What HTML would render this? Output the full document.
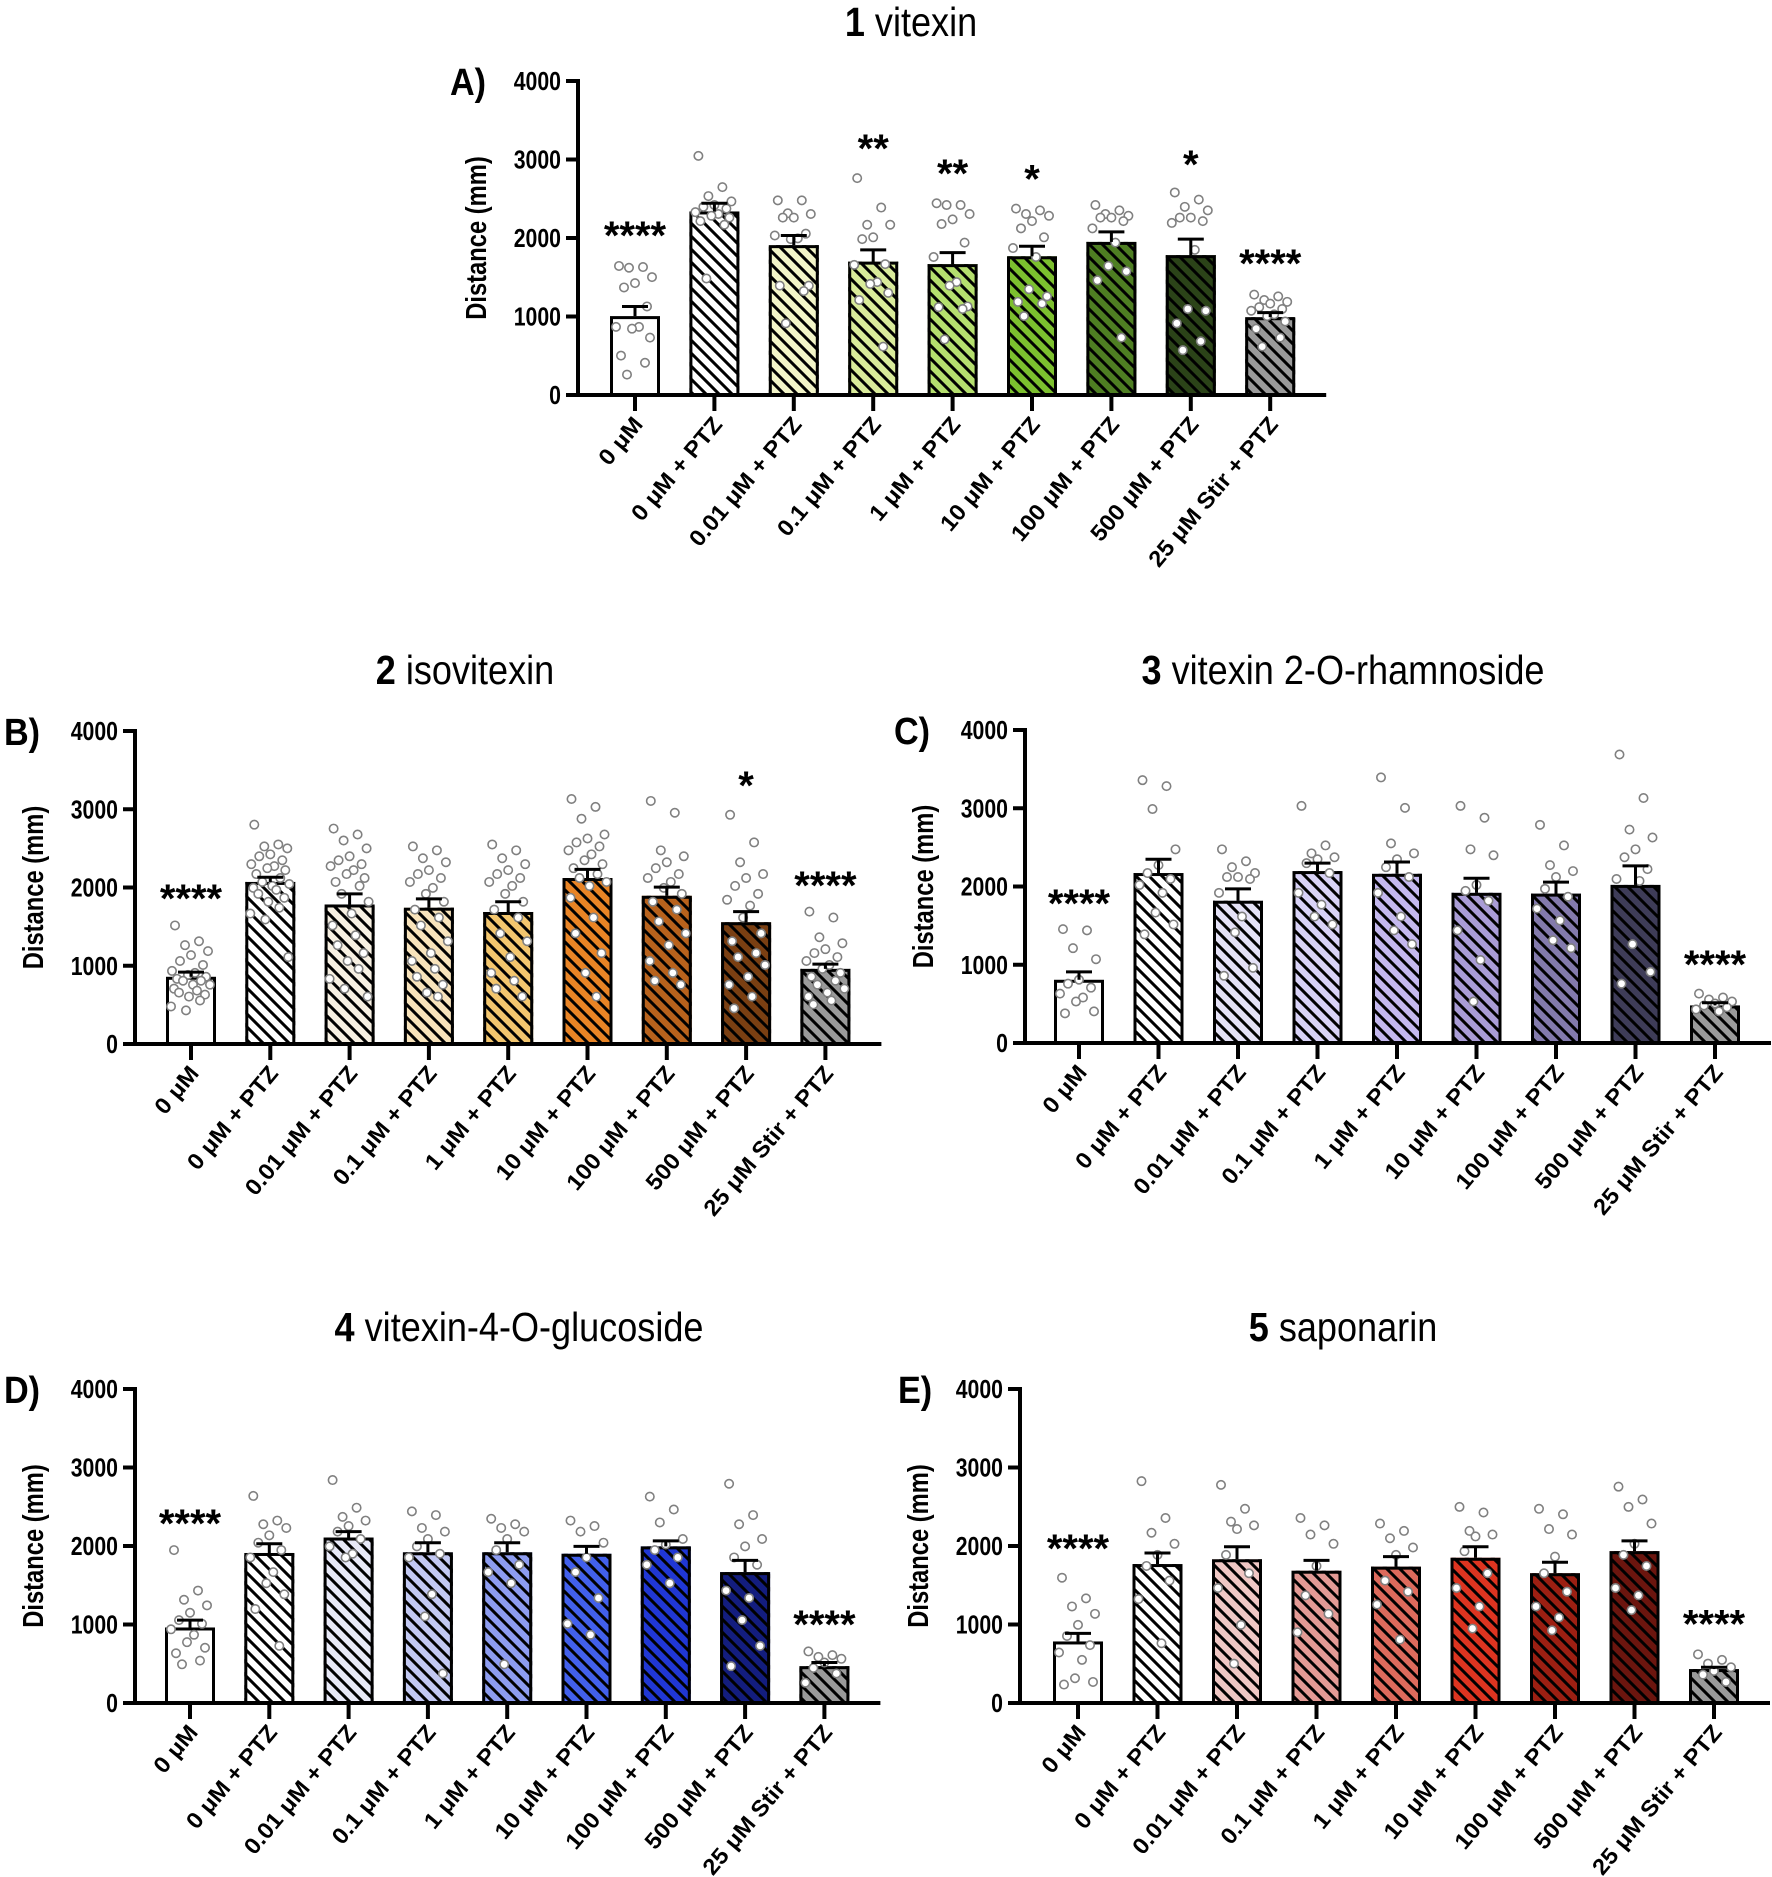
<!DOCTYPE html>
<html><head><meta charset="utf-8"><style>
html,body{margin:0;padding:0;background:#fff;}
svg{display:block;font-family:"Liberation Sans",Arial,sans-serif;}
</style></head><body>
<svg id="fig" width="1772" height="1877" viewBox="0 0 1772 1877" xmlns="http://www.w3.org/2000/svg">
<defs>
<pattern id="hatch" patternUnits="userSpaceOnUse" width="13" height="13">
<path d="M-2,-2 L15,15 M-8.5,4.5 L4.5,17.5 M4.5,-8.5 L17.5,4.5" stroke="#000" stroke-width="3"/>
</pattern>
</defs>
</svg>
<script>
const categories = ["0 \u03bcM","0 \u03bcM + PTZ","0.01 \u03bcM + PTZ","0.1 \u03bcM + PTZ","1 \u03bcM + PTZ","10 \u03bcM + PTZ","100 \u03bcM + PTZ","500 \u03bcM + PTZ","25 \u03bcM Stir + PTZ"];
const yTicks = [0,1000,2000,3000,4000];

const meansA = [1005,2338,1909,1699,1667,1767,1950,1781,991];
const semTopA = [1128,2443,2032,1849,1813,1895,2078,1986,1050];
const pointsA = [
[1644,1630,1621,1502,1425,1370,1128,868,868,845,731,502,411,260],
[3046,2648,2534,2466,2420,2397,2374,2329,2306,2283,2260,2215,2169,1484],
[2479,2479,2315,2306,2260,2260,2055,2032,1995,1986,1393,1393,1324,913],
[2763,2388,2169,2169,2009,1986,1667,1658,1438,1415,1301,1210,616],
[2443,2420,2420,2306,2237,2178,1941,1758,1438,1393,1128,1119,1096,708],
[2374,2352,2306,2283,2215,2123,2009,1872,1758,1347,1256,1187,1164,1005],
[2420,2352,2306,2283,2260,2260,2215,2123,1941,1644,1575,1461,731],
[2580,2489,2397,2352,2260,2260,2215,2192,1849,1096,1073,913,685,571],
[1279,1256,1210,1187,1164,1119,1096,1073,1027,1005,936,845,731,616]];
const starsA = ["****","","","**","**","*","","*","****"];
const starYA = [2087,0,0,3196,2877,2808,0,2991,1735];
const colorsA = ["#ffffff","#ffffff","#f3f5c8","#d9eb9a","#b5df6e","#7cbf2e","#4e7e22","#2b4318","#9a9a9a"];

const meansB = [859,2071,1783,1742,1687,2121,1894,1556,960];
const semTopB = [919,2131,1919,1854,1818,2232,2005,1692,1020];
const pointsB = [
[1515,1313,1263,1187,1136,1061,1010,934,909,884,859,833,808,808,758,758,707,682,657,631,606,556,480,430],
[2803,2550,2525,2500,2424,2399,2348,2298,2273,2247,2222,2172,2121,2071,2045,2020,1995,1970,1919,1868,1818,1742,1667,1591,1111],
[2753,2677,2601,2500,2399,2348,2298,2273,2222,2172,2121,2071,2020,1919,1818,1667,1515,1389,1263,1162,1061,960,833,707,606],
[2525,2475,2374,2323,2222,2172,2121,2071,1995,1919,1818,1717,1616,1515,1313,1162,1061,960,859,758,657,606],
[2550,2475,2374,2298,2222,2172,2121,2071,2020,1919,1818,1717,1616,1414,1313,1111,909,808,707,606],
[3131,3030,2879,2677,2626,2576,2525,2475,2424,2348,2298,2247,2172,2121,2071,2020,1869,1616,1414,1162,909,606],
[3106,2955,2475,2399,2323,2247,2172,2121,2071,1995,1919,1818,1717,1566,1414,1263,1061,909,808,758],
[2929,2576,2323,2172,2121,2020,1919,1843,1768,1616,1414,1313,1162,1111,1010,859,758,606,455],
[1692,1616,1364,1288,1212,1162,1111,1061,1010,960,909,859,808,758,707,657,606,556,505]];
const starsB = ["****","","","","","","","*","****"];
const starYB = [1919,0,0,0,0,0,0,3359,2086];
const colorsB = ["#ffffff","#ffffff","#f7f0e2","#f8e3bb","#f3c66e","#e98425","#b8621c","#7a3f12","#9a9a9a"];

const meansC = [808,2172,1818,2197,2162,1919,1909,2020,480];
const semTopC = [909,2348,1970,2298,2313,2106,2056,2263,515];
const pointsC = [
[1455,1439,1212,1071,808,758,707,631,581,530,404,379],
[3359,3283,2990,2475,2273,2172,2096,2020,1919,1667,1515,1389],
[2475,2323,2247,2172,2121,2121,2096,1919,1616,1414,960,859],
[3030,2525,2424,2374,2348,2298,2172,1919,1768,1616,1515],
[3394,3005,2551,2424,2348,2247,2121,1919,1616,1439,1263],
[3030,2879,2475,2399,2020,1944,1818,1439,1061,530],
[2788,2525,2273,2197,2121,1970,1869,1717,1566,1313,1212],
[3687,3131,2727,2626,2475,2374,2222,2096,2071,1263,909,758],
[631,581,556,530,505,480,455,429,404]];
const starsC = ["****","","","","","","","","****"];
const starYC = [1843,0,0,0,0,0,0,0,1061];
const colorsC = ["#ffffff","#ffffff","#e4e1f6","#d8d2f6","#c4b8ee","#a99cd6","#837aac","#3e3c58","#9a9a9a"];

const meansD = [962,1911,2108,1920,1920,1901,1995,1667,469];
const semTopD = [1056,2028,2183,2042,2042,1995,2066,1817,516];
const pointsD = [
[1948,1432,1315,1244,1150,1056,1009,939,869,775,704,634,540,493],
[2638,2324,2277,2230,2136,2042,1948,1854,1667,1526,1385,1197,728],
[2840,2488,2371,2324,2254,2183,2089,1995,1901,1854],
[2441,2394,2230,2183,2089,1995,1901,1854,1385,1103,376],
[2347,2277,2230,2183,2089,1948,1761,1667,1526,493],
[2324,2254,2183,2042,1854,1667,1338,1009,869],
[2629,2465,2300,2089,2019,1948,1854,1761,1526],
[2793,2394,2277,2089,1995,1854,1761,1432,1338,1056,728,469],
[657,610,587,563,516,446,376,258]];
const starsD = ["****","","","","","","","","****"];
const starYD = [2347,0,0,0,0,0,0,0,1056];
const colorsD = ["#ffffff","#ffffff","#e8e9f7","#c2c8f2","#8d9cf0","#4260ec","#2037d4","#131d7e","#9a9a9a"];

const meansE = [784,1770,1831,1685,1737,1850,1653,1934,432];
const semTopE = [887,1911,1991,1817,1864,1991,1793,2066,455];
const pointsE = [
[1596,1333,1230,1136,995,854,737,643,549,315,268,235],
[2826,2357,2169,2028,1887,1746,1559,1324,761],
[2779,2474,2310,2263,2216,1887,1653,1465,995,502],
[2357,2263,2146,2028,1746,1371,1136,901],
[2286,2192,2099,1981,1887,1559,1418,1254,808],
[2498,2427,2192,2146,2122,1934,1653,1465,1230,948],
[2474,2404,2216,2146,1864,1653,1418,1230,1089,925],
[2756,2592,2498,2286,2028,1887,1746,1465,1371,1183],
[620,549,502,455,408,361,268]];
const starsE = ["****","","","","","","","","****"];
const starYE = [2028,0,0,0,0,0,0,0,1066];
const colorsE = ["#ffffff","#ffffff","#efc7c4","#e39a95","#dd6a5c","#dd3420","#9c1f12","#6b150e","#9a9a9a"];

const NS = "http://www.w3.org/2000/svg";
const svg = document.getElementById("fig");
function mk(tag, attrs, parent, text){
  const e = document.createElementNS(NS, tag);
  for (const k in attrs) e.setAttribute(k, attrs[k]);
  if (text !== undefined) e.textContent = text;
  (parent || svg).appendChild(e);
  return e;
}
const jit = [-16,8,-6,17,0,-11,12,-19,4,-3,15,-14,10,-8,19,2,-17,6,-12,14,-2,9,-20,-5,18];

function panel(p){
  const g = mk("g", {});
  
  
  const ys = v => p.y0 - (v/4000)*(p.y0 - p.yTop);
  const xs = i => p.c0 + i*p.sp;
  const t = mk("text", {transform:`translate(${p.tx},${p.ty}) scale(0.88,1)`, "text-anchor":"middle", "font-size":41}, g);
  
  
  mk("tspan", {"font-weight":"bold"}, t, p.num);
  mk("tspan", {}, t, " " + p.title);
  const lab = mk("text", {transform:`translate(${p.lx},${p.yTop+14}) scale(0.9,1)`, "font-size":38, "font-weight":"bold"}, g, p.id + ")");
  
  
  const yt = mk("text", {transform:`translate(${p.ax-92},${(p.yTop+p.y0)/2}) rotate(-90) scale(0.95,1.15)`, "text-anchor":"middle", "font-size":25, "font-weight":"bold"}, g, "Distance (mm)");
  
  
  yTicks.forEach(v => {
    const tk = mk("line", {x1:p.ax-12, x2:p.ax, y1:ys(v), y2:ys(v), stroke:"#000", "stroke-width":4}, g);
    
    
    const tl = mk("text", {transform:`translate(${p.ax-17},${ys(v)+9}) scale(0.85,1.05)`, "text-anchor":"end", "font-size":25, "font-weight":"bold"}, g, String(v));
    
    
  });
  const bw = 50;
  p.means.forEach((m, i) => {
    const cx = xs(i), top = ys(m), h = p.y0 - top;
    const bg = mk("g", {}, g);
    
    
    mk("rect", {x:cx-bw/2, y:top, width:bw, height:h, fill:p.colors[i]}, bg);
    if (i > 0) mk("rect", {x:cx-bw/2, y:top, width:bw, height:h, fill:"url(#hatch)"}, bg);
    mk("rect", {x:cx-bw/2+1.5, y:top+1.5, width:bw-3, height:h-1.5, fill:"none", stroke:"#000", "stroke-width":3}, bg);
    p.points[i].forEach((v, j) => {
      const d = mk("circle", {cx:cx + jit[j % jit.length], cy:ys(v), r:4.2, fill:"#fff", stroke:"#808080", "stroke-width":1.6}, g);
      
      
    });
    const eb = mk("g", {}, g);
    
    
    mk("line", {x1:cx, x2:cx, y1:top, y2:ys(p.sem[i]), stroke:"#000", "stroke-width":3}, eb);
    mk("line", {x1:cx-13, x2:cx+13, y1:ys(p.sem[i]), y2:ys(p.sem[i]), stroke:"#000", "stroke-width":3}, eb);
    if (p.stars[i]) {
      const s = mk("text", {x:cx, y:ys(p.starY[i])+18, "text-anchor":"middle", "font-size":40, "font-weight":"bold"}, g, p.stars[i]);
      
      
    }
    const tk = mk("line", {x1:cx, x2:cx, y1:p.y0, y2:p.y0+16, stroke:"#000", "stroke-width":4}, g);
    
    
    const cl = mk("text", {transform:`translate(${cx+9},${p.y0+30}) rotate(-50) scale(1,0.95)`, "text-anchor":"end", "font-size":24, "font-weight":"bold"}, g, categories[i]);
    
    
  });
  const ya = mk("line", {x1:p.ax, x2:p.ax, y1:p.yTop-2, y2:p.y0+2, stroke:"#000", "stroke-width":4}, g);
  
  
  const xa = mk("line", {x1:p.ax-2, x2:xs(8)+56, y1:p.y0, y2:p.y0, stroke:"#000", "stroke-width":4}, g);
  
  
}

panel({id:"A", num:"1", title:"vitexin", tx:911, ty:36, lx:450, ax:578, c0:635, sp:79.4, yTop:81, y0:395, means:meansA, sem:semTopA, points:pointsA, stars:starsA, starY:starYA, colors:colorsA});
panel({id:"B", num:"2", title:"isovitexin", tx:465, ty:684, lx:4, ax:135, c0:191, sp:79.3, yTop:731, y0:1044, means:meansB, sem:semTopB, points:pointsB, stars:starsB, starY:starYB, colors:colorsB});
panel({id:"C", num:"3", title:"vitexin 2-O-rhamnoside", tx:1343, ty:684, lx:894, ax:1025, c0:1079, sp:79.5, yTop:730, y0:1043, means:meansC, sem:semTopC, points:pointsC, stars:starsC, starY:starYC, colors:colorsC});
panel({id:"D", num:"4", title:"vitexin-4-O-glucoside", tx:519, ty:1341, lx:4, ax:135, c0:190, sp:79.3, yTop:1389, y0:1703, means:meansD, sem:semTopD, points:pointsD, stars:starsD, starY:starYD, colors:colorsD});
panel({id:"E", num:"5", title:"saponarin", tx:1343, ty:1341, lx:898, ax:1020, c0:1078, sp:79.5, yTop:1389, y0:1703, means:meansE, sem:semTopE, points:pointsE, stars:starsE, starY:starYE, colors:colorsE});
</script>
</body></html>
